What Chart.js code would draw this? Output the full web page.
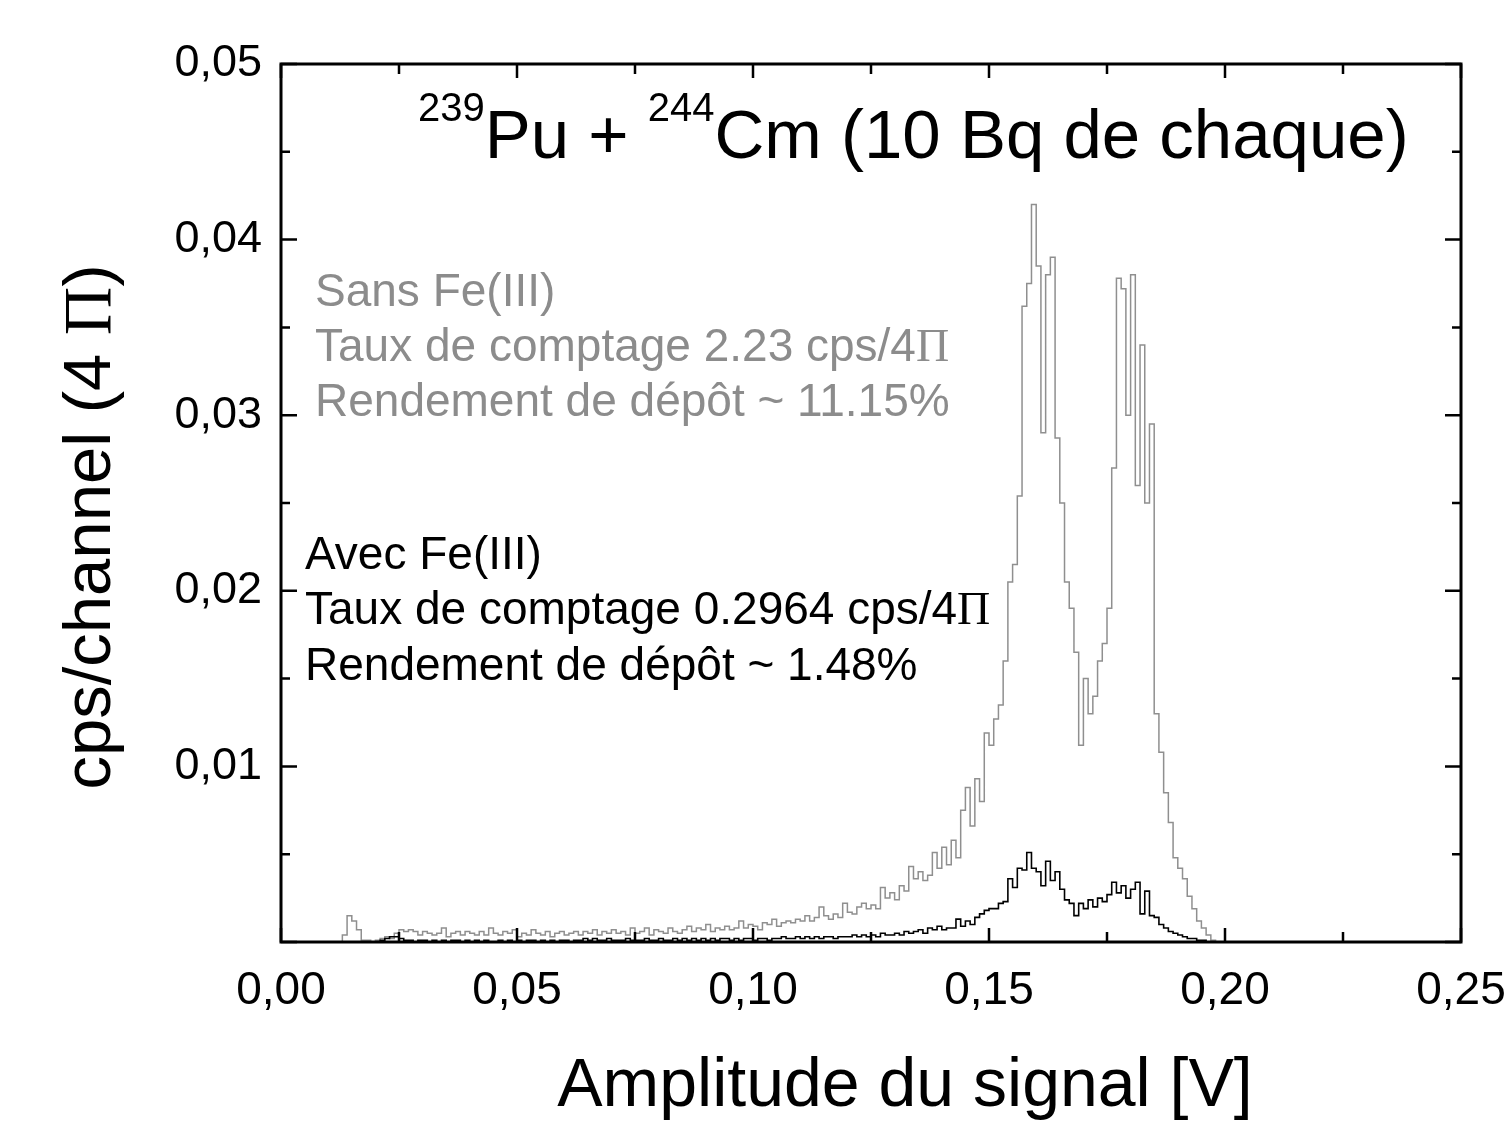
<!DOCTYPE html>
<html>
<head>
<meta charset="utf-8">
<script src="https://cdn.jsdelivr.net/npm/chart.js@4.4.1/dist/chart.umd.min.js"></script>
<style>
  html, body { margin: 0; padding: 0; background: #fff; }
  #chart { display: block; }
</style>
</head>
<body>
<canvas id="chart" width="1512" height="1124"></canvas>
<script>
// ===== DONNÉES =====
const channelWidth = 0.001;           // V par canal

// Sans Fe(III) : premier canal a 0.010 V
const sansFeStart = 0.010;
const sansFe = [
  0, 0, 0, 0.0004, 0.0015, 0.0012, 0.0007, 0.0001, 0.0001, 0,
  0.0001, 0.0002, 0.0003, 0.0002, 0.0005, 0.0007, 0.0006, 0.0007, 0.0006, 0.0004,
  0.0006, 0.0005, 0.0004, 0.0005, 0.0008, 0.0003, 0.0005, 0.0006, 0.0004, 0.0006,
  0.0005, 0.0004, 0.0006, 0.0004, 0.0008, 0.0005, 0.0004, 0.0006, 0.0005, 0.0007,
  0.0003, 0.0005, 0.0004, 0.0007, 0.0005, 0.0004, 0.0006, 0.0003, 0.0005, 0.0006,
  0.0004, 0.0005, 0.0006, 0.0004, 0.0006, 0.0005, 0.0007, 0.0004, 0.0006, 0.0005,
  0.0007, 0.0005, 0.0006, 0.0004, 0.0008, 0.0005, 0.0006, 0.0008, 0.0004, 0.0007,
  0.0006, 0.0005, 0.0008, 0.0006, 0.0005, 0.0007, 0.0009, 0.0006, 0.0008, 0.0007,
  0.0010, 0.0006, 0.0008, 0.0007, 0.0009, 0.0007, 0.0008, 0.0012, 0.0008, 0.0010,
  0.0009, 0.0007, 0.0011, 0.0010, 0.0013, 0.0009, 0.0011, 0.0012, 0.0011, 0.0013,
  0.0012, 0.0015, 0.0012, 0.0014, 0.0020, 0.0015, 0.0013, 0.0016, 0.0014, 0.0022,
  0.0017, 0.0016, 0.0020, 0.0022, 0.0019, 0.0021, 0.0019, 0.0031, 0.0025, 0.0028,
  0.0024, 0.0032, 0.0029, 0.0043, 0.0036, 0.0040, 0.0035, 0.0038, 0.0051, 0.0042,
  0.0054, 0.0044, 0.0058, 0.0048, 0.0075, 0.0088, 0.0066, 0.0093, 0.0080, 0.0119,
  0.0112, 0.0127, 0.0135, 0.0160, 0.0205, 0.0215, 0.0254, 0.0362, 0.0375, 0.0420,
  0.0385, 0.0290, 0.0380, 0.0390, 0.0287, 0.0250, 0.0205, 0.0190, 0.0165, 0.0112,
  0.0150, 0.0130, 0.0140, 0.0160, 0.0170, 0.0190, 0.0270, 0.0378, 0.0372, 0.0300,
  0.0380, 0.0260, 0.0340, 0.0250, 0.0295, 0.0130, 0.0108, 0.0085, 0.0068, 0.0048,
  0.0042, 0.0036, 0.0026, 0.0019, 0.0012, 0.0008, 0.0004, 0.0001, 0
];

// Avec Fe(III) : premier canal a 0.020 V
const avecFeStart = 0.020;
const avecFe = [
  0, 0.0001, 0.0002, 0.0003, 0.0003, 0.0002, 0.0001, 0.0001, 0, 0.0001,
  0.0001, 0, 0.0001, 0, 0.0001, 0, 0.0001, 0.0001, 0, 0.0001,
  0, 0.0001, 0, 0.0001, 0, 0, 0.0001, 0, 0.0001, 0,
  0.0001, 0, 0.0001, 0.0001, 0, 0.0001, 0, 0.0001, 0, 0.0001,
  0.0001, 0, 0.0001, 0.0001, 0.0002, 0.0001, 0.0002, 0.0001, 0.0001, 0.0002,
  0.0001, 0.0001, 0.0001, 0.0002, 0.0001, 0.0001, 0.0001, 0.0002, 0.0001, 0.0001,
  0.0002, 0.0001, 0.0001, 0.0002, 0.0001, 0.0002, 0.0001, 0.0002, 0.0001, 0.0002,
  0.0001, 0.0002, 0.0001, 0.0002, 0.0002, 0.0001, 0.0002, 0.0001, 0.0002, 0.0002,
  0.0001, 0.0002, 0.0002, 0.0001, 0.0002, 0.0002, 0.0003, 0.0002, 0.0002, 0.0003,
  0.0002, 0.0003, 0.0002, 0.0003, 0.0002, 0.0003, 0.0003, 0.0002, 0.0003, 0.0003,
  0.0003, 0.0004, 0.0003, 0.0004, 0.0003, 0.0004, 0.0003, 0.0005, 0.0004, 0.0004,
  0.0005, 0.0004, 0.0006, 0.0005, 0.0006, 0.0007, 0.0005, 0.0008, 0.0007, 0.0009,
  0.0007, 0.0008, 0.0008, 0.0013, 0.0009, 0.0012, 0.0010, 0.0014, 0.0016, 0.0018,
  0.0019, 0.0019, 0.0022, 0.0023, 0.0036, 0.0031, 0.0042, 0.0041, 0.0051, 0.0042,
  0.0040, 0.0032, 0.0046, 0.0035, 0.0040, 0.0030, 0.0024, 0.0022, 0.0015, 0.0022,
  0.0019, 0.0024, 0.0020, 0.0025, 0.0023, 0.0027, 0.0034, 0.0028, 0.0032, 0.0025,
  0.0030, 0.0034, 0.0016, 0.0029, 0.0015, 0.0014, 0.0010, 0.0008, 0.0006, 0.0005,
  0.0004, 0.0003, 0.0002, 0.0002, 0.0001, 0.0001, 0
];

const xTicks = [0, 0.05, 0.10, 0.15, 0.20, 0.25];
const yTicks = [0.01, 0.02, 0.03, 0.04, 0.05];

// ===== STYLES =====
const SANS = "'Liberation Sans', Arial, sans-serif";
const SERIF = "'Liberation Serif', 'Times New Roman', serif";
const GREY = '#8c8c8c';

function toPoints(start, values) {
  return values.map((y, i) => ({ x: start + i * channelWidth, y: y }));
}

function fmt(v) {
  return v.toFixed(2).replace('.', ',');
}

// draws a run of text pieces, each with its own font
function drawRuns(ctx, x, y, runs, color) {
  ctx.fillStyle = color;
  ctx.textBaseline = 'alphabetic';
  ctx.textAlign = 'left';
  runs.forEach(r => {
    ctx.font = r.font;
    ctx.fillText(r.text, x, y + (r.dy || 0));
    x += ctx.measureText(r.text).width;
  });
}

function runsWidth(ctx, runs) {
  let w = 0;
  runs.forEach(r => { ctx.font = r.font; w += ctx.measureText(r.text).width; });
  return w;
}

// ===== CADRE + GRADUATIONS =====
const framePlugin = {
  id: 'frame',
  afterDraw(chart) {
    const { ctx, chartArea: a, scales: { x, y } } = chart;
    ctx.save();
    ctx.strokeStyle = '#000';
    ctx.lineWidth = 3;
    ctx.strokeRect(a.left, a.top, a.right - a.left, a.bottom - a.top);

    ctx.lineWidth = 2.5;
    ctx.beginPath();
    for (let i = 0; i <= 10; i++) {
      const px = x.getPixelForValue(i * 0.025);
      const len = i % 2 === 0 ? 14 : 10;
      ctx.moveTo(px, a.bottom); ctx.lineTo(px, a.bottom - len);
      ctx.moveTo(px, a.top); ctx.lineTo(px, a.top + len);
    }
    for (let i = 0; i <= 10; i++) {
      const py = y.getPixelForValue(i * 0.005);
      const len = i % 2 === 0 ? 16 : 9;
      ctx.moveTo(a.left, py); ctx.lineTo(a.left + len, py);
      ctx.moveTo(a.right, py); ctx.lineTo(a.right - len, py);
    }
    ctx.stroke();
    ctx.restore();
  }
};

// ===== TEXTES =====
const textPlugin = {
  id: 'texts',
  afterDraw(chart) {
    const ctx = chart.ctx;
    ctx.save();

    // titre
    const big = '69px ' + SANS, sup = '40px ' + SANS;
    drawRuns(ctx, 418, 158, [
      { text: '239', font: sup, dy: -37 },
      { text: 'Pu + ', font: big },
      { text: '244', font: sup, dy: -37 },
      { text: 'Cm (10 Bq de chaque)', font: big }
    ], '#000');

    // annotations
    const f = '46px ' + SANS, fs = '46px ' + SERIF;
    drawRuns(ctx, 315, 306, [{ text: 'Sans Fe(III)', font: f }], GREY);
    drawRuns(ctx, 315, 361, [{ text: 'Taux de comptage 2.23 cps/4', font: f }, { text: 'Π', font: fs }], GREY);
    drawRuns(ctx, 315, 416, [{ text: 'Rendement de dépôt ~ 11.15%', font: f }], GREY);
    drawRuns(ctx, 305, 569, [{ text: 'Avec Fe(III)', font: f }], '#000');
    drawRuns(ctx, 305, 624, [{ text: 'Taux de comptage 0.2964 cps/4', font: f }, { text: 'Π', font: fs }], '#000');
    drawRuns(ctx, 305, 680, [{ text: 'Rendement de dépôt ~ 1.48%', font: f }], '#000');

    // titre axe x
    ctx.font = '68px ' + SANS;
    ctx.fillStyle = '#000';
    ctx.textAlign = 'center';
    ctx.textBaseline = 'alphabetic';
    ctx.fillText('Amplitude du signal [V]', 905, 1106);

    // titre axe y
    const yRuns = [
      { text: 'cps/channel (4 ', font: '67px ' + SANS },
      { text: 'Π', font: '67px ' + SERIF },
      { text: ')', font: '67px ' + SANS }
    ];
    const w = runsWidth(ctx, yRuns);
    ctx.translate(110, 527);
    ctx.rotate(-Math.PI / 2);
    drawRuns(ctx, -w / 2, 0, yRuns, '#000');

    ctx.restore();
  }
};

// ===== CHART =====
const ctx = document.getElementById('chart').getContext('2d');
new Chart(ctx, {
  type: 'line',
  data: {
    datasets: [
      {
        label: 'Avec Fe(III)',
        data: toPoints(avecFeStart, avecFe),
        borderColor: '#000',
        borderWidth: 1.6,
        pointRadius: 0,
        stepped: true,
        fill: false
      },
      {
        label: 'Sans Fe(III)',
        data: toPoints(sansFeStart, sansFe),
        borderColor: '#8f8f8f',
        borderWidth: 1.5,
        pointRadius: 0,
        stepped: true,
        fill: false
      }
    ]
  },
  options: {
    responsive: false,
    animation: false,
    layout: { padding: { top: 64, right: 51, left: 0, bottom: 0 } },
    plugins: {
      legend: { display: false },
      tooltip: { enabled: false }
    },
    scales: {
      x: {
        type: 'linear',
        min: 0,
        max: 0.25,
        afterBuildTicks: s => { s.ticks = xTicks.map(v => ({ value: v })); },
        afterFit: s => { s.height = 182; s.paddingLeft = 0; s.paddingRight = 0; },
        grid: { display: false, drawTicks: false },
        border: { display: false },
        ticks: {
          color: '#000',
          padding: 22,
          maxRotation: 0,
          autoSkip: false,
          font: { family: SANS, size: 46 },
          callback: v => fmt(v)
        }
      },
      y: {
        type: 'linear',
        min: 0,
        max: 0.05,
        afterBuildTicks: s => { s.ticks = yTicks.map(v => ({ value: v })); },
        afterFit: s => { s.width = 281; s.paddingTop = 0; s.paddingBottom = 0; },
        grid: { display: false, drawTicks: false },
        border: { display: false },
        ticks: {
          color: '#000',
          padding: 19,
          autoSkip: false,
          font: { family: SANS, size: 45 },
          callback: v => fmt(v)
        }
      }
    }
  },
  plugins: [framePlugin, textPlugin]
});
</script>
</body>
</html>
